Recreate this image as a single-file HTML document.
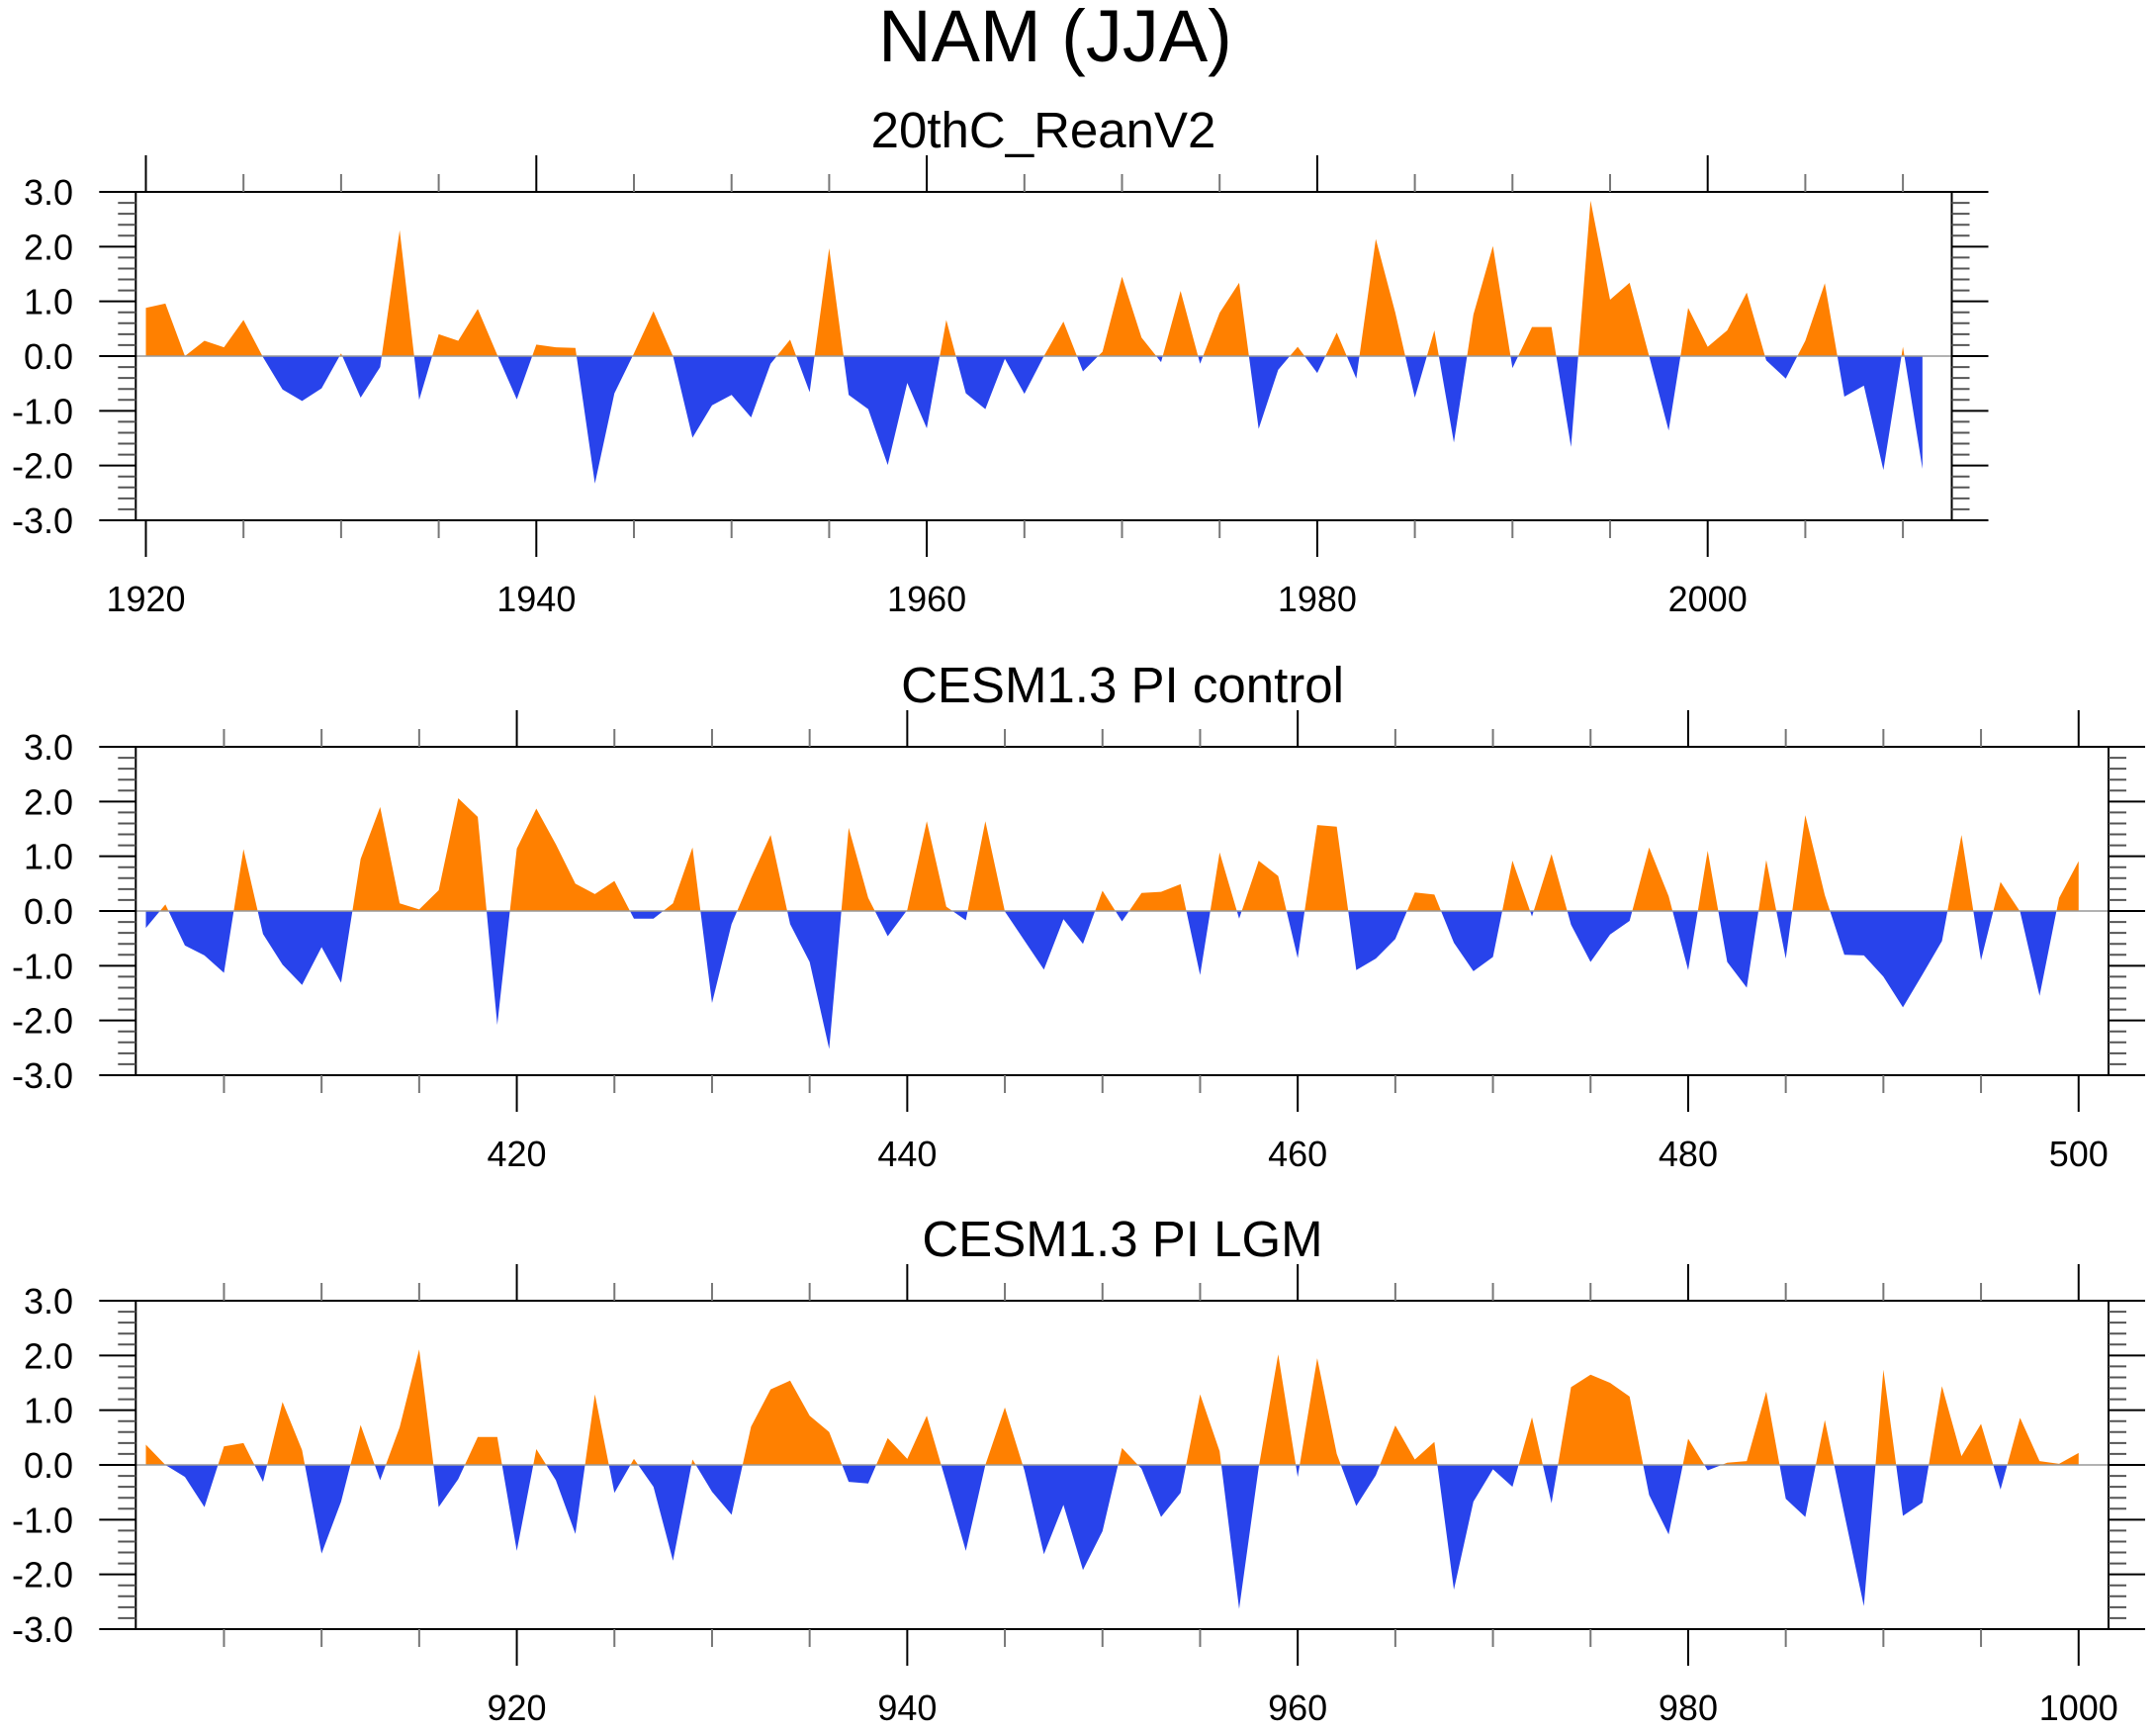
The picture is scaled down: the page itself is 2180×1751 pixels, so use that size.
<!DOCTYPE html>
<html><head><meta charset="utf-8"><title>NAM (JJA)</title>
<style>
html,body{margin:0;padding:0;background:#fff;}
svg{display:block;font-family:"Liberation Sans",Arial,sans-serif;}
</style></head>
<body>
<svg id="chart" xmlns="http://www.w3.org/2000/svg" width="2180" height="1751" viewBox="0 0 2180 1751">
<rect x="0" y="0" width="2180" height="1751" fill="#fff"/>
<text x="1067" y="62" font-size="74" text-anchor="middle" fill="#000">NAM (JJA)</text>
</svg>
<script>
// ---- data ----
const reanYears = [1920,1921,1922,1923,1924,1925,1926,1927,1928,1929,1930,1931,1932,1933,1934,1935,1936,1937,1938,1939,1940,1941,1942,1943,1944,1945,1946,1947,1948,1949,1950,1951,1952,1953,1954,1955,1956,1957,1958,1959,1960,1961,1962,1963,1964,1965,1966,1967,1968,1969,1970,1971,1972,1973,1974,1975,1976,1977,1978,1979,1980,1981,1982,1983,1984,1985,1986,1987,1988,1989,1990,1991,1992,1993,1994,1995,1996,1997,1998,1999,2000,2001,2002,2003,2004,2005,2006,2007,2008,2009,2010,2011];
const reanValues = [0.88,0.96,0.0,0.28,0.16,0.66,-0.02,-0.61,-0.82,-0.59,0.05,-0.76,-0.2,2.3,-0.8,0.4,0.28,0.86,0.02,-0.79,0.21,0.16,0.15,-2.33,-0.68,0.05,0.82,0.0,-1.49,-0.9,-0.71,-1.12,-0.14,0.3,-0.66,1.97,-0.71,-0.97,-1.99,-0.49,-1.32,0.66,-0.68,-0.97,-0.05,-0.69,0.0,0.63,-0.28,0.08,1.45,0.34,-0.11,1.19,-0.14,0.79,1.34,-1.33,-0.25,0.17,-0.31,0.43,-0.41,2.14,0.79,-0.76,0.47,-1.58,0.76,2.01,-0.22,0.53,0.53,-1.66,2.84,1.03,1.34,0.0,-1.36,0.88,0.17,0.47,1.16,-0.08,-0.41,0.28,1.33,-0.74,-0.54,-2.08,0.17,-2.06];
const ctrlStart = 401;
const ctrlValues = [-0.31,0.12,-0.63,-0.81,-1.13,1.13,-0.42,-0.98,-1.35,-0.66,-1.31,0.95,1.9,0.14,0.03,0.38,2.06,1.72,-2.08,1.14,1.87,1.22,0.5,0.31,0.55,-0.14,-0.14,0.14,1.16,-1.68,-0.24,0.6,1.39,-0.24,-0.93,-2.52,1.52,0.24,-0.46,0.02,1.64,0.08,-0.17,1.64,-0.01,-0.54,-1.07,-0.15,-0.6,0.37,-0.19,0.33,0.35,0.49,-1.17,1.07,-0.14,0.92,0.64,-0.86,1.57,1.54,-1.08,-0.87,-0.51,0.34,0.3,-0.58,-1.1,-0.84,0.92,-0.1,1.04,-0.25,-0.93,-0.43,-0.18,1.16,0.27,-1.08,1.1,-0.93,-1.4,0.93,-0.87,1.75,0.29,-0.8,-0.81,-1.2,-1.76,-1.16,-0.55,1.39,-0.9,0.53,-0.01,-1.55,0.24,0.91];
const lgmStart = 901;
const lgmValues = [0.37,0.0,-0.22,-0.77,0.34,0.4,-0.31,1.15,0.27,-1.62,-0.67,0.73,-0.28,0.69,2.11,-0.77,-0.26,0.51,0.51,-1.57,0.29,-0.28,-1.26,1.29,-0.51,0.11,-0.4,-1.75,0.1,-0.49,-0.91,0.7,1.38,1.54,0.9,0.6,-0.31,-0.34,0.49,0.11,0.9,-0.32,-1.57,0.0,1.05,-0.1,-1.63,-0.73,-1.92,-1.21,0.31,-0.07,-0.95,-0.51,1.29,0.25,-2.63,-0.05,2.02,-0.22,1.95,0.2,-0.75,-0.19,0.72,0.1,0.42,-2.28,-0.67,-0.08,-0.4,0.87,-0.7,1.42,1.65,1.5,1.25,-0.55,-1.27,0.48,-0.1,0.04,0.07,1.34,-0.62,-0.95,0.82,-0.9,-2.58,1.74,-0.93,-0.69,1.44,0.16,0.75,-0.45,0.86,0.07,0.02,0.22];
const yTickLabels = ["3.0","2.0","1.0","0.0","-1.0","-2.0","-3.0"];
const reanXLabels = [1920,1940,1960,1980,2000];
const ctrlXLabels = [420,440,460,480,500];
const lgmXLabels = [920,940,960,980,1000];

const NS = "http://www.w3.org/2000/svg";
const svg = document.getElementById("chart");
function mk(tag, attrs, parent){
  const e = document.createElementNS(NS, tag);
  for (const k in attrs) e.setAttribute(k, attrs[k]);
  (parent||svg).appendChild(e);
  return e;
}
const STEP = 19.74, X0 = 147.5, LEFT = 137.3, MAJ = 37, MIN = 18;

function panel(id, title, top, xs, vals, firstX, rightX, tickStart, tickEnd, labels){
  const bottom = top + 332;
  const g = mk("g", {});
  
  
  const xf = v => X0 + (v - firstX) * STEP;
  const yf = v => top + (3 - v) / 6 * 332;
  const zero = yf(0);
  const t = mk("text", {x: id==="rean"?1055:1135, y: top-45, "font-size": 51, "text-anchor": "middle"}, g);
  t.textContent = title;
  
  
  let d = "M" + xf(xs[0]) + "," + zero;
  for (let i = 0; i < vals.length; i++) d += " L" + xf(xs[i]).toFixed(2) + "," + yf(vals[i]).toFixed(2);
  d += " L" + xf(xs[xs.length-1]) + "," + zero + " Z";
  const cidA = id + "-clipA", cidB = id + "-clipB";
  const defs = mk("defs", {}, g);
  const ca = mk("clipPath", {id: cidA}, defs);
  mk("rect", {x: 0, y: 0, width: 2180, height: zero}, ca);
  const cb = mk("clipPath", {id: cidB}, defs);
  mk("rect", {x: 0, y: zero, width: 2180, height: 1751}, cb);
  const pa = mk("path", {d: d, fill: "#FF8000", "clip-path": "url(#" + cidA + ")"}, g);
  
  
  const pb = mk("path", {d: d, fill: "#2843EB", "clip-path": "url(#" + cidB + ")"}, g);
  
  
  const zl = mk("line", {x1: LEFT, x2: rightX, y1: zero, y2: zero, stroke: "#999", "stroke-width": 1.5}, g);
  
  
  const fr = mk("rect", {x: LEFT, y: top, width: rightX - LEFT, height: 332, fill: "none", stroke: "#000", "stroke-width": 2}, g);
  
  
  for (let k = 0; k <= 30; k++) {
    const v = -3 + k * 0.2;
    const y = yf(v);
    const major = k % 5 === 0;
    const len = major ? MAJ : MIN;
    const sc = major ? "#000" : "#555";
    mk("line", {x1: LEFT - len, x2: LEFT, y1: y, y2: y, stroke: sc, "stroke-width": 2}, g);
    mk("line", {x1: rightX, x2: rightX + len, y1: y, y2: y, stroke: sc, "stroke-width": 2}, g);
  }
  for (let k = 0; k < yTickLabels.length; k++) {
    const yl = mk("text", {x: 74, y: yf(3 - k) + 13, "font-size": 36, "text-anchor": "end"}, g);
    yl.textContent = yTickLabels[k];
    
    
  }
  for (let v = tickStart; v <= tickEnd; v += 5) {
    const x = xf(v);
    const major = v % 20 === 0;
    const len = major ? MAJ : MIN;
    const sc = major ? "#000" : "#777";
    mk("line", {x1: x, x2: x, y1: top - len, y2: top, stroke: sc, "stroke-width": 2}, g);
    mk("line", {x1: x, x2: x, y1: bottom, y2: bottom + len, stroke: sc, "stroke-width": 2}, g);
  }
  for (let k = 0; k < labels.length; k++) {
    const xl = mk("text", {x: xf(labels[k]), y: bottom + 92, "font-size": 36, "text-anchor": "middle"}, g);
    xl.textContent = labels[k];
    
    
  }
}
const ctrlX = ctrlValues.map((_, i) => ctrlStart + i);
const lgmX = lgmValues.map((_, i) => lgmStart + i);
panel("rean", "20thC_ReanV2", 194, reanYears, reanValues, 1920, 1973.5, 1920, 2010, reanXLabels);
panel("ctrl", "CESM1.3 PI control", 755, ctrlX, ctrlValues, 401, 2132, 405, 500, ctrlXLabels);
panel("lgm", "CESM1.3 PI LGM", 1315, lgmX, lgmValues, 901, 2132, 905, 1000, lgmXLabels);
</script>
</body></html>
